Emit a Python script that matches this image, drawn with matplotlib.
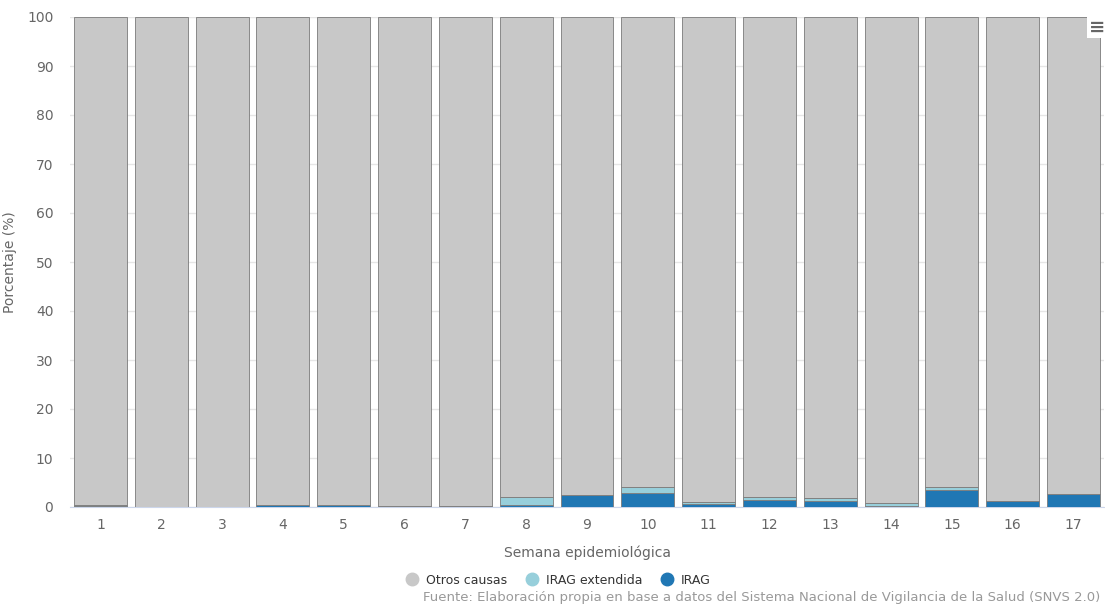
import numpy as np
import matplotlib
matplotlib.use("Agg")
import matplotlib.pyplot as plt
from matplotlib.lines import Line2D

semanas = [str(i) for i in range(1, 18)]
irag = [0.25, 0.0, 0.0, 0.5, 0.5, 0.0, 0.3, 0.4, 2.5, 2.9, 0.7, 1.45, 1.2, 0.3, 3.5, 1.2, 2.65]
irag_ext = [0.25, 0.0, 0.0, 0.0, 0.0, 0.3, 0.0, 1.6, 0.0, 1.1, 0.3, 0.5, 0.6, 0.45, 0.5, 0.0, 0.0]
otros = [100 - a - b for a, b in zip(irag, irag_ext)]

c_otros = "#c8c8c8"
c_ext = "#97cfdb"
c_irag = "#2077b4"

fig = plt.figure(figsize=(11.05, 6.07), dpi=100)
ax = fig.add_axes([70 / 1105, 1 - 507 / 607, 1034 / 1105, 490 / 607])

x = np.arange(len(semanas))
w = 0.87
kw = dict(width=w, edgecolor="#7a7a7a", linewidth=0.6, zorder=3)
ax.bar(x, irag, color=c_irag, **kw)
ax.bar(x, irag_ext, bottom=irag, color=c_ext, **kw)
ax.bar(x, otros, bottom=np.array(irag) + np.array(irag_ext), color=c_otros, **kw)

ax.set_xlim(-0.5, len(semanas) - 0.5)
ax.set_ylim(0, 100)
ax.set_yticks(range(0, 101, 10))
ax.set_xticks(x)
ax.set_xticklabels(semanas)
ax.grid(axis="y", color="#e6e6e6", linewidth=1, zorder=0)
for s in ["top", "right", "left"]:
    ax.spines[s].set_visible(False)
ax.spines["bottom"].set_color("#ccd6eb")
ax.tick_params(axis="both", length=0, colors="#666666", labelsize=10)
ax.tick_params(axis="y", pad=12)
ax.tick_params(axis="x", pad=8)

ax.set_xlabel("Semana epidemiológica", color="#666666", fontsize=10, labelpad=10)
ax.set_ylabel("Porcentaje (%)", color="#666666", fontsize=10)
ax.yaxis.set_label_coords(-53 / 1034, 0.5)

handles = [
    Line2D([], [], marker="o", linestyle="", markersize=9, color=c_otros, label="Otros causas"),
    Line2D([], [], marker="o", linestyle="", markersize=9, color=c_ext, label="IRAG extendida"),
    Line2D([], [], marker="o", linestyle="", markersize=9, color=c_irag, label="IRAG"),
]
fig.legend(handles=handles, loc="center", bbox_to_anchor=(555 / 1105, 1 - 580 / 607), ncol=3,
           frameon=False, fontsize=9, handletextpad=0.1, columnspacing=1.0, labelcolor="#333333")

fig.text(1100 / 1105, 1 - 598 / 607,
         "Fuente: Elaboración propia en base a datos del Sistema Nacional de Vigilancia de la Salud (SNVS 2.0)",
         ha="right", va="center", fontsize=9.5, color="#999999")

# menu icon
fig.text(1097 / 1105, 1 - 27 / 607, "≡", ha="center", va="center", fontsize=14, color="#666666",
         fontweight="bold", bbox=dict(boxstyle="square,pad=0.1", fc="white", ec="none"))

fig.savefig("out.png", dpi=100)
